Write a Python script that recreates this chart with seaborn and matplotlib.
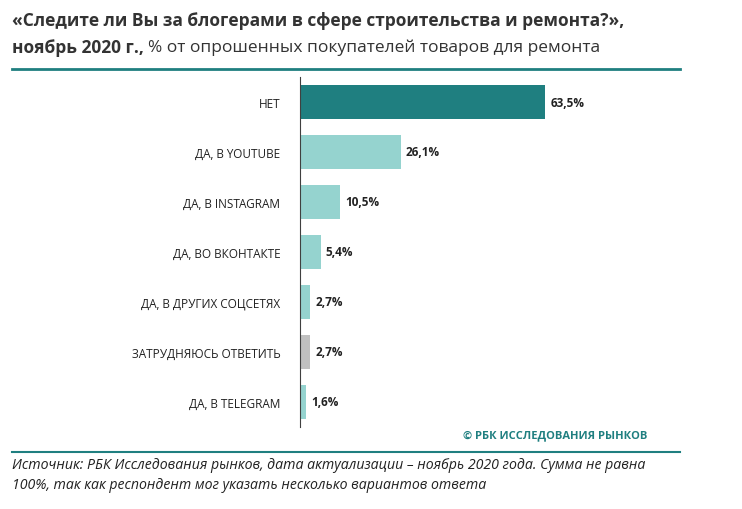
import matplotlib
matplotlib.use("Agg")
import matplotlib.pyplot as plt
import seaborn as sns
import pandas as pd

categories = ["НЕТ", "ДА, В YOUTUBE", "ДА, В INSTAGRAM", "ДА, ВО ВКОНТАКТЕ",
              "ДА, В ДРУГИХ СОЦСЕТЯХ", "ЗАТРУДНЯЮСЬ ОТВЕТИТЬ", "ДА, В TELEGRAM"]
values = [63.5, 26.1, 10.5, 5.4, 2.7, 2.7, 1.6]
colors = ["#1f7f80", "#95d3cf", "#95d3cf", "#95d3cf", "#95d3cf", "#c0c0c0", "#95d3cf"]

plt.rcParams["font.family"] = "Open Sans"
df = pd.DataFrame({"cat": categories, "val": values})
fig = plt.figure(figsize=(7.42, 5.10), dpi=100)
ax = fig.add_axes([0.404, 0.161, 0.521, 0.686])
sns.barplot(data=df, y="cat", x="val", hue="cat", palette=colors, legend=False,
            width=0.68, ax=ax, saturation=1)
ax.set_xlim(0, 100)
ax.set_xlabel(""); ax.set_ylabel("")
ax.set_xticks([])
for s in ["top", "right", "bottom"]:
    ax.spines[s].set_visible(False)
ax.spines["left"].set_color("#404040")
ax.tick_params(axis="y", length=0, pad=14, labelsize=8.5, labelcolor="#222222")
for i, v in enumerate(values):
    ax.text(v + 1.3, i, f"{v:.1f}".replace(".", ",") + "%", va="center", ha="left",
            fontsize=8.5, fontweight="bold", color="#222222")

fig.text(0.016, 0.958, "«Следите ли Вы за блогерами в сфере строительства и ремонта?»,",
         fontsize=12.5, fontweight="bold", color="#333333", va="center")
fig.text(0.016, 0.906, "ноябрь 2020 г.,", fontsize=12.5, fontweight="bold",
         color="#333333", va="center")
fig.text(0.199, 0.906, "% от опрошенных покупателей товаров для ремонта",
         fontsize=12.5, color="#333333", va="center")
fig.add_artist(plt.Line2D([0.016, 0.916], [0.863, 0.863], color="#1f7f80", lw=2))
fig.text(0.873, 0.146, "© РБК ИССЛЕДОВАНИЯ РЫНКОВ", fontsize=8, fontweight="bold",
         color="#1f7f80", ha="right", va="center")
fig.add_artist(plt.Line2D([0.016, 0.916], [0.112, 0.112], color="#1f7f80", lw=1.5))
fig.text(0.016, 0.088, "Источник: РБК Исследования рынков, дата актуализации – ноябрь 2020 года. Сумма не равна",
         fontsize=10.2, style="italic", color="#222222", va="center")
fig.text(0.016, 0.048, "100%, так как респондент мог указать несколько вариантов ответа",
         fontsize=10.2, style="italic", color="#222222", va="center")
fig.savefig("out.png", dpi=100)
